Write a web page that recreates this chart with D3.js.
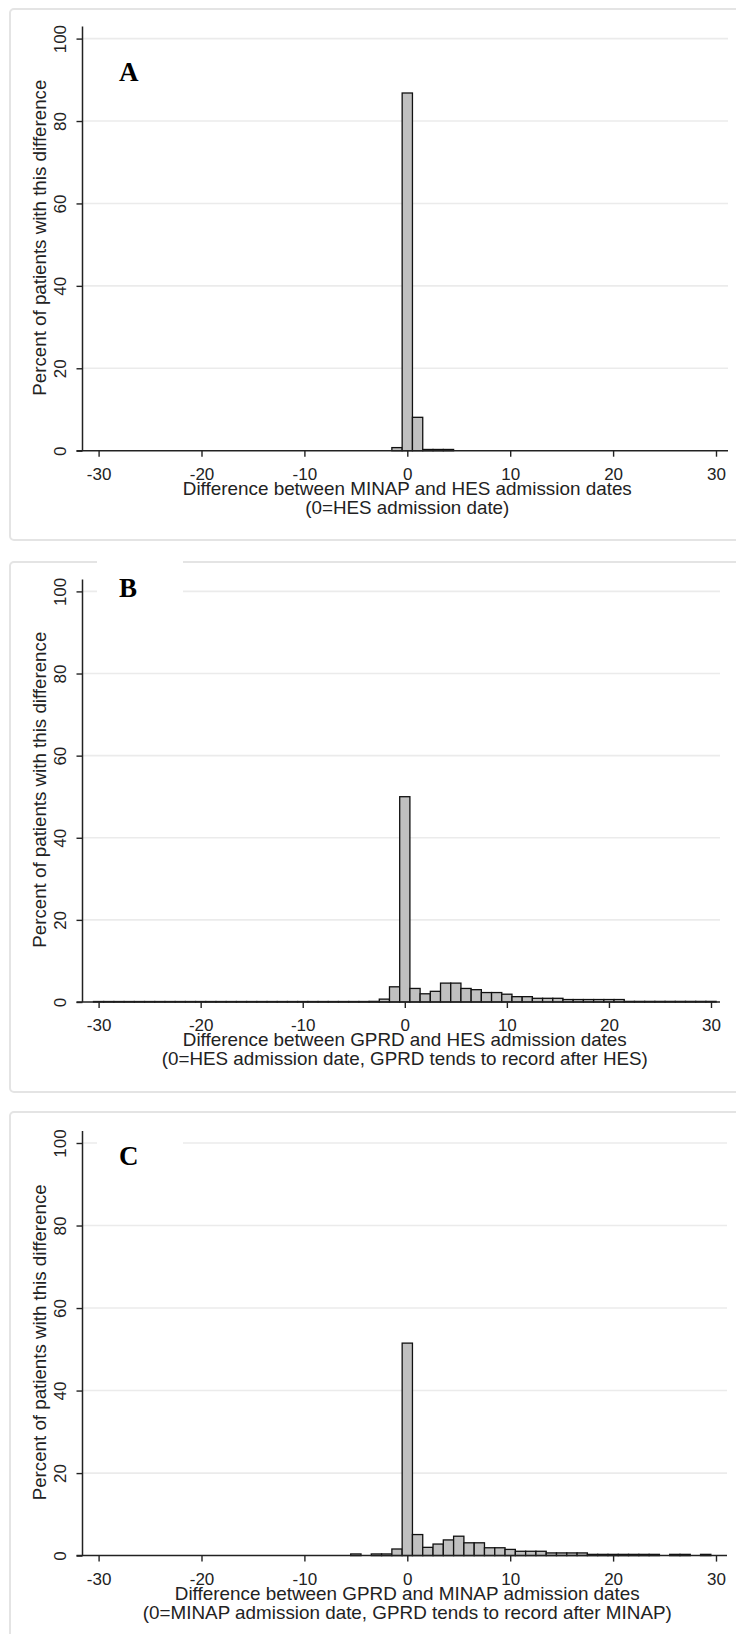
<!DOCTYPE html>
<html>
<head>
<meta charset="utf-8">
<script src="https://cdn.jsdelivr.net/npm/d3@7"></script>
<style>
  body { margin: 0; background: #fff; }
  svg { display: block; }
</style>
</head>
<body>
<svg id="canvas" width="736" height="1634"></svg>
<script>
// axis ticks shared by the three panels
const xTicks = [-30, -20, -10, 0, 10, 20, 30];
const yTicks = [0, 20, 40, 60, 80, 100];

// A: MINAP vs HES
const binsA = [-1, 0, 1, 2, 3, 4];
const pctA = [0.75, 86.8, 8.1, 0.3, 0.3, 0.3];

// B: GPRD vs HES
const binsB = [-30, -29, -28, -27, -26, -25, -24, -23, -22, -21, -20, -19, -18, -17, -16,
  -15, -14, -13, -12, -11, -10, -9, -8, -7, -6, -5, -4, -3, -2, -1, 0, 1, 2, 3, 4, 5, 6,
  7, 8, 9, 10, 11, 12, 13, 14, 15, 16, 17, 18, 19, 20, 21, 22, 23, 24, 25, 26, 27, 28, 29, 30];
const pctB = [0.12, 0.12, 0.12, 0.12, 0.12, 0.12, 0.12, 0.12, 0.12, 0.12, 0.12, 0.12, 0.12, 0.12, 0.12,
  0.12, 0.12, 0.12, 0.12, 0.12, 0.12, 0.12, 0.12, 0.12, 0.12, 0.12, 0.12, 0.15, 0.7, 3.7, 50.0, 3.3, 2.0, 2.6, 4.6, 4.6, 3.3,
  3.0, 2.3, 2.3, 1.9, 1.3, 1.3, 0.9, 0.9, 0.9, 0.6, 0.6, 0.6, 0.6, 0.6, 0.6, 0.15, 0.15, 0.15, 0.15, 0.15, 0.15, 0.15, 0.15, 0.15];

// C: GPRD vs MINAP
const binsC = [-5, -3, -2, -1, 0, 1, 2, 3, 4, 5, 6, 7, 8, 9, 10, 11, 12, 13, 14, 15, 16, 17,
  18, 19, 20, 21, 22, 23, 24, 26, 27, 29];
const pctC = [0.4, 0.4, 0.4, 1.6, 51.5, 5.1, 2.0, 2.8, 3.8, 4.7, 3.1, 3.1, 1.9, 1.9, 1.5, 1.05, 1.05, 1.05, 0.65, 0.65, 0.65, 0.65,
  0.3, 0.3, 0.3, 0.3, 0.3, 0.3, 0.3, 0.3, 0.3, 0.3];

const yTitle = "Percent of patients with this difference";
const titlesA = ["Difference between MINAP and HES admission dates", "(0=HES admission date)"];
const titlesB = ["Difference between GPRD and HES admission dates", "(0=HES admission date, GPRD tends to record after HES)"];
const titlesC = ["Difference between GPRD and MINAP admission dates", "(0=MINAP admission date, GPRD tends to record after MINAP)"];

// layout of each panel (pixels)
const panels = [
  { letter: "A", bins: binsA, pct: pctA, titles: titlesA, widths: [449, 204],
    top: 9, bottom: 540, y0: 450.7, y100: 38.6, xl: 98.6, xr: 716, end: 728, letterY: 81, mask: null },
  { letter: "B", bins: binsB, pct: pctB, titles: titlesB, widths: [444, 486],
    top: 562, bottom: 1092, y0: 1002, y100: 591.4, xl: 98.6, xr: 711, end: 720, letterY: 597, mask: [553, 42] },
  { letter: "C", bins: binsC, pct: pctC, titles: titlesC, widths: [465, 529],
    top: 1112, bottom: 1660, y0: 1555.6, y100: 1143, xl: 98.6, xr: 716, end: 727, letterY: 1165, mask: [1137, 12] },
];

const svg = d3.select("#canvas");
svg.append("rect").attr("width", 736).attr("height", 1634).attr("fill", "#fff");

const sans = "'Liberation Sans', Arial, sans-serif";
const axisX0 = 82.5;

panels.forEach((p) => {
  const g = svg.append("g");
  const x = d3.scaleLinear().domain([-30, 30]).range([p.xl, p.xr]);
  const y = d3.scaleLinear().domain([0, 100]).range([p.y0, p.y100]);

  g.append("rect")
    .attr("x", 10).attr("y", p.top)
    .attr("width", 760).attr("height", p.bottom - p.top)
    .attr("rx", 4)
    .attr("fill", "none").attr("stroke", "#e4e4e4").attr("stroke-width", 2);

  // gridlines
  g.selectAll("line.grid")
    .data(yTicks.filter((d) => d > 0))
    .join("line")
    .attr("class", "grid")
    .attr("x1", axisX0).attr("x2", p.end)
    .attr("y1", (d) => y(d)).attr("y2", (d) => y(d))
    .attr("stroke", "#ebebeb").attr("stroke-width", 1.6);

  if (p.mask) {
    g.append("rect")
      .attr("x", 97).attr("y", p.mask[0])
      .attr("width", 86).attr("height", p.mask[1])
      .attr("fill", "#fff");
  }

  // bars, one per day
  g.selectAll("rect.bar")
    .data(p.bins.map((b, i) => ({ b, v: p.pct[i] })))
    .join("rect")
    .attr("class", "bar")
    .attr("x", (d) => x(d.b - 0.5))
    .attr("width", (d) => x(d.b + 0.5) - x(d.b - 0.5))
    .attr("y", (d) => y(d.v))
    .attr("height", (d) => y(0) - y(d.v))
    .attr("fill", "#c0c0c0")
    .attr("stroke", "#111").attr("stroke-width", 1.3);

  // x axis (plain hyphen for negatives, like the original)
  const xa = g.append("g")
    .attr("transform", `translate(0,${p.y0})`)
    .call(d3.axisBottom(x).tickValues(xTicks).tickFormat((d) => String(d)).tickSize(6).tickSizeOuter(0));
  xa.select(".domain").remove();
  xa.selectAll(".tick line").attr("stroke", "#222").attr("stroke-width", 1.4);
  xa.selectAll(".tick text")
    .attr("y", 29).attr("dy", 0)
    .attr("font-family", sans).attr("font-size", 17).attr("fill", "#222");
  g.append("line")
    .attr("x1", axisX0 - 6).attr("x2", p.end)
    .attr("y1", p.y0).attr("y2", p.y0)
    .attr("stroke", "#222").attr("stroke-width", 1.5);

  // y axis
  const ya = g.append("g")
    .attr("transform", `translate(${axisX0},0)`)
    .call(d3.axisLeft(y).tickValues(yTicks).tickFormat((d) => String(d)).tickSize(6).tickSizeOuter(0));
  ya.select(".domain").remove();
  ya.selectAll(".tick line").attr("stroke", "#222").attr("stroke-width", 1.4);
  ya.selectAll(".tick text")
    .attr("transform", "rotate(-90)")
    .attr("x", 0).attr("y", -16.5).attr("dy", 0)
    .attr("text-anchor", "middle")
    .attr("font-family", sans).attr("font-size", 17).attr("fill", "#222");
  g.append("line")
    .attr("x1", axisX0).attr("x2", axisX0)
    .attr("y1", p.y100 - 12).attr("y2", p.y0)
    .attr("stroke", "#222").attr("stroke-width", 1.5);

  // y title
  const midY = (p.y0 + p.y100) / 2 - 7;
  g.append("text")
    .attr("transform", `translate(45.5,${midY}) rotate(-90)`)
    .attr("text-anchor", "middle")
    .attr("font-family", sans).attr("font-size", 18.5).attr("fill", "#222")
    .attr("textLength", 316).attr("lengthAdjust", "spacingAndGlyphs")
    .text(yTitle);

  // x title, two lines
  p.titles.forEach((t, i) => {
    g.append("text")
      .attr("x", x(0)).attr("y", p.y0 + (i === 0 ? 44 : 63))
      .attr("text-anchor", "middle")
      .attr("font-family", sans).attr("font-size", 18.5).attr("fill", "#222")
      .attr("textLength", p.widths[i]).attr("lengthAdjust", "spacingAndGlyphs")
      .text(t);
  });

  // panel letter
  g.append("text")
    .attr("x", 119).attr("y", p.letterY)
    .attr("font-family", "'Liberation Serif', 'Times New Roman', serif")
    .attr("font-weight", "bold").attr("font-size", 27).attr("fill", "#000")
    .text(p.letter);
});
</script>
</body>
</html>
